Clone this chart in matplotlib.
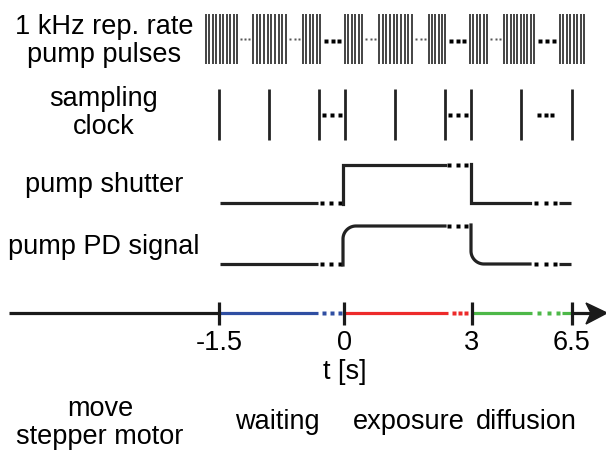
import numpy as np
import matplotlib.pyplot as plt
from matplotlib.patches import Polygon

plt.rcParams['font.family'] = ['Liberation Sans', 'DejaVu Sans']

# diagram coordinates run in image units: x to the right, y downwards
W, H = 606, 450

# pump pulse bursts: (start, end, number of pulses)
pulse_groups = [(205, 238, 10), (252, 287, 10), (302, 321, 6), (344, 363, 6),
                (378, 413, 10), (428, 446, 6), (469, 488, 6), (503, 535, 10),
                (559, 585, 8)]
# gaps between bursts: (start, end, large dots?)
pulse_gaps = [(239, 251, False), (288, 301, False), (324, 341, True),
              (364, 377, False), (414, 427, False), (449, 466, True),
              (489, 502, False), (538, 556, True)]

clock_ticks = [219, 269, 319, 345, 395, 445, 471, 521, 572]
clock_gaps = [(322, 342), (448, 468), (537, 554)]

# time axis
t_ticks = [219, 344, 472, 572]
t_labels = ['-1.5', '0', '3', '6.5']
phase_names = ['waiting', 'exposure', 'diffusion']
phase_colors = ['#2f4ea2', '#ed2a2a', '#4db848']
phase_solid = [(219, 318), (344, 448), (473, 532)]
phase_dots = [(322, 342), (452, 468), (537, 560)]

row_labels = [('1 kHz rep. rate\npump pulses', 41), ('sampling\nclock', 113),
              ('pump shutter', 185), ('pump PD signal', 247)]

fig = plt.figure(figsize=(W / 100, H / 100), dpi=100)
ax = fig.add_axes([0, 0, 1, 1])
ax.set_xlim(0, W)
ax.set_ylim(H, 0)
ax.axis('off')

fs = 19.5
lw = 2.3


def dots(x0, x1, y, size=2.2, color='black', n=3):
    xs = np.linspace(x0 + 2, x1 - 2, n)
    ax.plot(xs, [y] * n, ls='none', marker='s', ms=size, color=color,
            mec='none')


# row labels
for text, y in row_labels:
    ax.text(104, y, text, ha='center', va='center', fontsize=fs,
            linespacing=1.15)

# pump pulses
for x0, x1, n in pulse_groups:
    for x in np.linspace(x0 + 1, x1 - 1, n):
        ax.plot([x, x], [14, 64], color='#3c3c3c', lw=1.35,
                solid_capstyle='butt')
for x0, x1, big in pulse_gaps:
    if big:
        dots(x0, x1, 40.5, size=3.2)
    else:
        dots(x0, x1, 38.5, size=1.8, color='#555555')

# sampling clock
for x in clock_ticks:
    ax.plot([x, x], [89, 140], color='#222222', lw=2.0, solid_capstyle='butt')
for x0, x1 in clock_gaps:
    dots(x0, x1, 115, size=2.6)

# pump shutter
lo, hi = 203, 165
ax.plot([220, 318], [lo, lo], color='#222222', lw=lw, solid_capstyle='butt')
dots(320, 342, lo, size=2.4)
ax.plot([343, 343, 445], [lo + 1, hi, hi], color='#222222', lw=lw,
        solid_joinstyle='miter')
dots(447, 468, hi, size=2.4)
ax.plot([471, 471, 530], [hi - 1, lo, lo], color='#222222', lw=lw,
        solid_joinstyle='miter')
dots(534, 557, lo, size=2.4)
ax.plot([559, 571], [lo, lo], color='#222222', lw=lw, solid_capstyle='butt')

# pump photodiode signal with rounded edges
lo, hi, r = 264, 226, 13
ax.plot([220, 318], [lo, lo], color='#222222', lw=lw, solid_capstyle='butt')
dots(320, 342, lo, size=2.4)
a = np.linspace(np.pi, 1.5 * np.pi, 30)
xs = np.r_[343, 343 + r + r * np.cos(a), 445]
ys = np.r_[lo + 1, hi + r + r * np.sin(a), hi]
ax.plot(xs, ys, color='#222222', lw=lw)
dots(447, 468, hi, size=2.4)
a = np.linspace(np.pi, 0.5 * np.pi, 30)
xs = np.r_[471, 471 + r + r * np.cos(a), 530]
ys = np.r_[hi - 1, lo - r + r * np.sin(a), lo]
ax.plot(xs, ys, color='#222222', lw=lw)
dots(534, 557, lo, size=2.4)
ax.plot([559, 571], [lo, lo], color='#222222', lw=lw, solid_capstyle='butt')

# time axis
ya = 313
ax.plot([9, 219], [ya, ya], color='#1a1a1a', lw=lw, solid_capstyle='butt')
for (s0, s1), (d0, d1), c in zip(phase_solid, phase_dots, phase_colors):
    ax.plot([s0, s1], [ya, ya], color=c, lw=lw, solid_capstyle='butt')
    dots(d0, d1, ya, size=2.6, color=c)
ax.plot([562, 572], [ya, ya], color=phase_colors[2], lw=lw,
        solid_capstyle='butt')
ax.plot([572, 592], [ya, ya], color='#1a1a1a', lw=lw, solid_capstyle='butt')
ax.add_patch(Polygon([(586, 303), (607, 313), (586, 324), (591, 313)],
                     closed=True, color='#1a1a1a'))
for x, lab in zip(t_ticks, t_labels):
    ax.plot([x, x], [302, 325], color='#1a1a1a', lw=lw, solid_capstyle='butt')
    ax.text(x, 343, lab, ha='center', va='center', fontsize=fs)
ax.text(345, 372, 't [s]', ha='center', va='center', fontsize=fs)

# phases
ax.text(100, 423, 'move\nstepper motor', ha='center', va='center',
        fontsize=fs, linespacing=1.15)
for x, name in zip([277, 409, 526], phase_names):
    ax.text(x, 422, name, ha='center', va='center', fontsize=fs)

fig.savefig('out.png', dpi=100)
